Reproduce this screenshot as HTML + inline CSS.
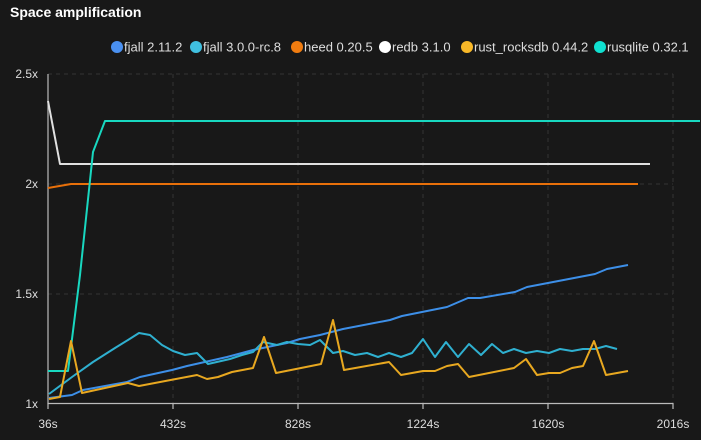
<!DOCTYPE html>
<html><head><meta charset="utf-8"><style>
body{margin:0;background:#181818;width:701px;height:435px;overflow:hidden;font-family:"Liberation Sans",sans-serif}
</style></head><body>
<svg width="701" height="435" xmlns="http://www.w3.org/2000/svg" font-family="Liberation Sans, sans-serif">
<rect width="701" height="435" fill="#181818"/>
<text x="10" y="17" fill="#fff" font-size="14" font-weight="bold">Space amplification</text>
<g font-size="13" fill="#ddd">
<circle cx="117" cy="47" r="6" fill="#4a90f0"/><text x="124" y="51.5">fjall 2.11.2</text>
<circle cx="196" cy="47" r="6" fill="#40c0e0"/><text x="203" y="51.5">fjall 3.0.0-rc.8</text>
<circle cx="297" cy="47" r="6" fill="#f07c10"/><text x="304" y="51.5">heed 0.20.5</text>
<circle cx="385" cy="47" r="6" fill="#ffffff"/><text x="392" y="51.5">redb 3.1.0</text>
<circle cx="467" cy="47" r="6" fill="#f8b828"/><text x="474" y="51.5">rust_rocksdb 0.44.2</text>
<circle cx="600" cy="47" r="6" fill="#10e0d0"/><text x="607" y="51.5">rusqlite 0.32.1</text>
</g>
<g stroke="#333" stroke-dasharray="4,4" stroke-width="1">
<line x1="48" y1="74" x2="673" y2="74"/><line x1="48" y1="184" x2="673" y2="184"/><line x1="48" y1="294" x2="673" y2="294"/>
<line x1="173" y1="74" x2="173" y2="403"/><line x1="298" y1="74" x2="298" y2="403"/><line x1="423" y1="74" x2="423" y2="403"/><line x1="548" y1="74" x2="548" y2="403"/><line x1="673" y1="74" x2="673" y2="403"/>
</g>
<g stroke="#bbb" stroke-width="1.2">
<line x1="48" y1="74" x2="48" y2="404"/><line x1="48" y1="403.5" x2="673" y2="403.5"/>
<line x1="48" y1="403" x2="48" y2="409"/><line x1="173" y1="403" x2="173" y2="409"/><line x1="298" y1="403" x2="298" y2="409"/><line x1="423" y1="403" x2="423" y2="409"/><line x1="548" y1="403" x2="548" y2="409"/><line x1="673" y1="403" x2="673" y2="409"/>
</g>
<g font-size="12" fill="#ddd" text-anchor="end">
<text x="38" y="78">2.5x</text><text x="38" y="188">2x</text><text x="38" y="298">1.5x</text><text x="38" y="408">1x</text>
</g>
<g font-size="12" fill="#ddd" text-anchor="middle">
<text x="48" y="428">36s</text><text x="173" y="428">432s</text><text x="298" y="428">828s</text><text x="423" y="428">1224s</text><text x="548" y="428">1620s</text><text x="673" y="428">2016s</text>
</g>
<g fill="none" stroke-width="2" stroke-linejoin="round">
<polyline stroke="#e8700a" points="48,188 71,184 638,184"/>
<polyline stroke="#e0e0e0" points="48,101 60,164 650,164"/>
<polyline stroke="#18d8c0" points="48,371 68,371 80,275 93,152 105,121 700,121"/>
<polyline stroke="#3d8fe8" points="49,398 72,395 83,390 127,382 140,377 172,370 187,366 227,357 242,353 253,350 277,345 287,343 300,339 320,335 343,329 390,320 402,316 447,307 468,298 480,298 515,292 527,287 595,274 607,269 628,265"/>
<polyline stroke="#2fb0d0" points="49,394 72,377 93,362 115,348 128,340 139,333 150,335 162,345 173,351 185,355 197,353 208,364 230,359 242,355 253,352 263,342 277,345 287,342 298,344 310,345 320,340 333,353 343,351 355,355 367,353 378,357 389,353 401,357 412,353 423,339 435,357 446,342 458,357 469,344 481,355 492,344 503,353 514,349 526,353 537,351 549,353 560,349 572,351 583,349 595,349 606,346 617,349"/>
<polyline stroke="#e8a820" points="49,399 60,397 71,341 82,393 128,383 139,386 197,375 207,379 218,377 232,372 253,368 264,337 276,373 321,364 333,320 344,370 389,362 401,375 423,371 435,371 447,366 458,364 469,377 514,368 526,359 537,375 549,373 560,373 572,368 583,366 594,341 606,375 628,371"/>
</g>
</svg>
</body></html>
